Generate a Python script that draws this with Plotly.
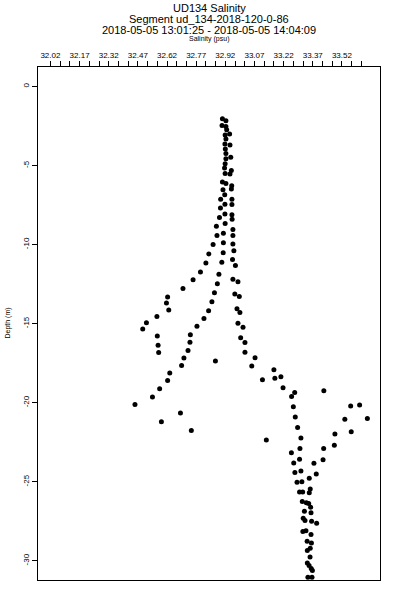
import plotly.graph_objects as go

salinity = [
    32.905, 32.923, 32.903, 32.923, 32.927, 32.942, 32.919, 32.923, 32.918, 32.944,
    32.920, 32.923, 32.923, 32.948, 32.919, 32.916, 32.951, 32.919, 32.944, 32.905,
    32.923, 32.953, 32.951, 32.908, 32.917, 32.896, 32.954, 32.918, 32.954, 32.895,
    32.918, 32.954, 32.890, 32.955, 32.919, 32.874, 32.959, 32.910, 32.877, 32.959,
    32.910, 32.959, 32.857, 32.964, 32.909, 32.835, 32.957, 32.820, 32.902, 32.972,
    32.792, 32.887, 32.754, 32.959, 32.985, 32.879, 32.702, 32.864, 32.969, 32.992,
    32.623, 32.617, 32.851, 32.629, 32.834, 32.980, 32.995, 32.568, 32.810, 32.514,
    32.985, 33.011, 32.495, 32.774, 32.570, 32.740, 32.999, 33.021, 32.574, 32.738,
    32.728, 33.021, 32.577, 32.707, 33.073, 32.869, 32.695, 33.056, 33.170, 32.634,
    33.175, 33.206, 32.623, 33.111, 32.582, 33.217, 33.277, 33.427, 33.261, 32.545,
    32.455, 33.270, 33.565, 33.611, 32.689, 33.280, 33.535, 33.651, 32.591, 33.292,
    33.568, 32.745, 33.484, 33.309, 33.131, 33.481, 33.304, 33.426, 33.260, 33.302,
    33.423, 33.272, 33.376, 33.278, 33.309, 33.388, 33.352, 33.289, 33.314, 33.302,
    33.318, 33.357, 33.352, 33.316, 33.337, 33.349, 33.359, 33.327, 33.361, 33.321,
    33.330, 33.364, 33.390, 33.319, 33.335, 33.361, 33.341, 33.363, 33.357, 33.342,
    33.356, 33.342, 33.351, 33.362, 33.368, 33.345, 33.366,
]

depth = [
    -2.04, -2.17, -2.47, -2.53, -2.74, -3.00, -3.07, -3.32, -3.64, -3.70,
    -3.95, -4.24, -4.57, -4.48, -4.89, -5.16, -5.32, -5.51, -5.53, -6.04,
    -6.14, -6.28, -6.49, -6.53, -6.85, -7.13, -7.13, -7.45, -7.47, -7.69,
    -8.07, -8.11, -8.29, -8.39, -8.67, -8.84, -9.04, -9.29, -9.42, -9.42,
    -9.89, -9.97, -9.99, -10.39, -10.51, -10.59, -10.94, -11.16, -11.11, -11.33,
    -11.73, -11.87, -12.23, -12.19, -12.35, -12.47, -12.78, -13.04, -13.12, -13.28,
    -13.31, -13.69, -13.61, -14.13, -14.18, -14.05, -14.29, -14.54, -14.68, -14.94,
    -14.98, -15.23, -15.34, -15.17, -15.78, -15.70, -15.89, -16.19, -16.37, -16.18,
    -16.69, -16.81, -16.83, -17.17, -17.15, -17.36, -17.65, -17.67, -17.91, -18.12,
    -18.46, -18.35, -18.60, -18.55, -19.11, -19.05, -19.36, -19.24, -19.61, -19.63,
    -20.12, -20.25, -20.20, -20.14, -20.65, -20.90, -21.05, -20.99, -21.21, -21.56,
    -21.83, -21.76, -21.97, -22.23, -22.36, -22.69, -22.89, -22.89, -23.17, -23.58,
    -23.60, -23.81, -23.83, -24.42, -24.31, -24.50, -24.78, -25.03, -24.99, -25.64,
    -25.64, -25.45, -25.70, -26.25, -26.33, -26.38, -26.61, -26.86, -26.95, -27.31,
    -27.45, -27.50, -27.62, -28.15, -28.10, -28.34, -28.76, -28.87, -29.20, -29.35,
    -29.76, -30.14, -30.30, -30.49, -30.61, -31.04, -31.04,
]

x_tick_values = [
    32.02, 32.07, 32.12, 32.17, 32.22, 32.27, 32.32, 32.37, 32.42, 32.47, 32.52,
    32.57, 32.62, 32.67, 32.72, 32.77, 32.82, 32.87, 32.92, 32.97, 33.02, 33.07,
    33.12, 33.17, 33.22, 33.27, 33.32, 33.37, 33.42, 33.47, 33.52, 33.57, 33.62,
]
x_tick_labels = [
    "32.02", "", "", "32.17", "", "", "32.32", "", "", "32.47", "",
    "", "32.62", "", "", "32.77", "", "", "32.92", "", "", "33.07",
    "", "", "33.22", "", "", "33.37", "", "", "33.52", "", "",
]
y_tick_values = [0, -5, -10, -15, -20, -25, -30]
y_tick_labels = ["0", "-5", "-10", "-15", "-20", "-25", "-30"]

title_lines = [
    "UD134 Salinity",
    "Segment ud_134-2018-120-0-86",
    "2018-05-05 13:01:25 - 2018-05-05 14:04:09",
]
x_title = "Salinity (psu)"
y_title = "Depth (m)"

FONT = "Liberation Sans, Arial, Helvetica, sans-serif"

fig = go.Figure()
fig.add_trace(go.Scatter(
    x=salinity, y=depth, mode="markers",
    marker=dict(color="black", size=5, line=dict(width=0)),
    hoverinfo="skip", showlegend=False,
))

fig.update_layout(
    width=400, height=600,
    margin=dict(l=38, r=20, t=67, b=20, pad=0),
    paper_bgcolor="white", plot_bgcolor="white",
    font=dict(family=FONT, color="black", size=8),
    showlegend=False,
)

fig.update_xaxes(
    side="top", range=[31.956, 33.716],
    tickmode="array", tickvals=x_tick_values, ticktext=x_tick_labels,
    ticks="outside", ticklen=5, tickwidth=1, tickcolor="black",
    tickfont=dict(size=8, family=FONT, color="black"), tickangle=0,
    showline=True, linecolor="black", linewidth=1, mirror=True,
    showgrid=False, zeroline=False,
)
fig.update_yaxes(
    range=[-31.21, 1.23],
    tickmode="array", tickvals=y_tick_values, ticktext=y_tick_labels,
    ticks="outside", ticklen=5, tickwidth=1, tickcolor="black",
    tickfont=dict(size=8, family=FONT, color="black"), tickangle=-90,
    showline=True, linecolor="black", linewidth=1, mirror=True,
    showgrid=False, zeroline=False,
)

title_y = [1.115, 1.0936, 1.0721]
for txt, yy in zip(title_lines, title_y):
    fig.add_annotation(text=txt, xref="paper", yref="paper", x=0.5, y=yy,
                       xanchor="center", yanchor="middle", showarrow=False,
                       font=dict(size=11, family=FONT, color="black"))
fig.add_annotation(text=x_title, xref="paper", yref="paper", x=0.5, y=1.0546,
                   xanchor="center", yanchor="middle", showarrow=False,
                   font=dict(size=7, family=FONT, color="black"))
fig.add_annotation(text=y_title, xref="paper", yref="paper", x=-0.0906, y=0.5,
                   xanchor="center", yanchor="middle", showarrow=False, textangle=-90,
                   font=dict(size=7, family=FONT, color="black"))

fig.write_html(
    "out.html",
    config={"displayModeBar": False},
    post_script="document.body.style.margin='0';document.body.style.padding='0';",
)
